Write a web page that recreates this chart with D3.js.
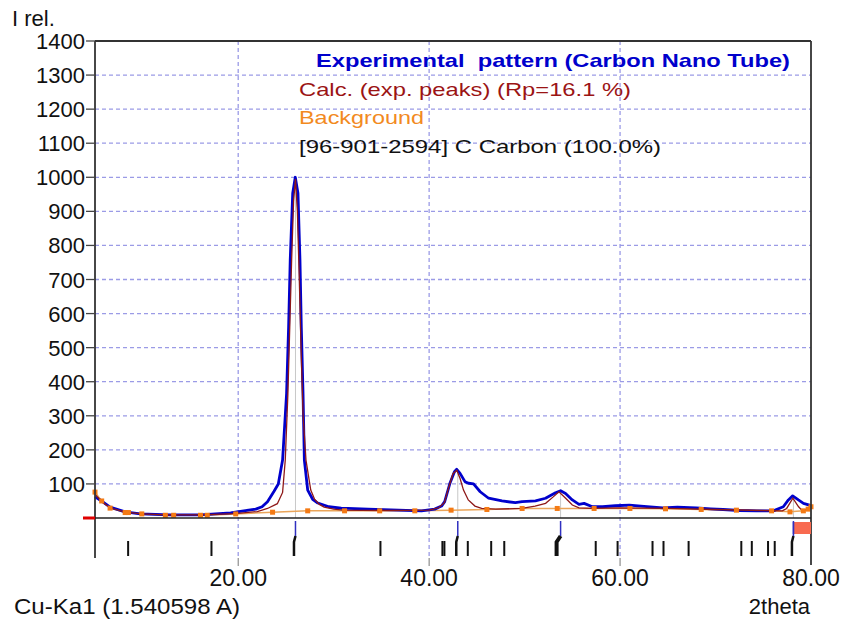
<!DOCTYPE html>
<html>
<head>
<meta charset="utf-8">
<script src="https://cdn.jsdelivr.net/npm/d3@7"></script>
<style>
  body { margin: 0; background: #fff; }
  text { font-family: Arial, "Liberation Sans", sans-serif; }
</style>
</head>
<body>
<script>
// experimental pattern (blue)
var expTheta = [5, 5.53, 6.58, 8.16, 9.74, 12.9, 16.05, 17.63, 19.21, 20.05, 21.84, 22.5, 23.07, 23.74, 24.2, 24.65,
    25.07, 25.28, 25.45, 25.71, 25.98, 26.26, 26.47, 26.61, 26.79, 26.93, 27.28, 27.8, 28.34, 29.5, 30.79, 33.6,
    36, 39.2, 40.58, 41.3, 41.63, 42.19, 42.65, 42.89, 43.24, 43.77, 44.13, 44.65, 45.35, 46.23, 47.63, 49.03,
    49.74, 51.14, 52.19, 53.24, 53.77, 54.29, 55, 55.7, 56.23, 57.1, 58.16, 59.5, 60.97, 62.5, 64.47, 66, 67.98,
    69.5, 70.79, 72.5, 74.29, 76.05, 77.1, 77.63, 78.08, 78.68, 79.21, 79.92, 80]
var expI = [62, 53, 32, 18, 12, 9, 9, 12, 15, 19, 26, 33, 48, 78, 100, 170,
    366, 560, 757, 953, 1000, 953, 757, 560, 366, 170, 82, 55, 44, 33, 29, 26,
    24, 21, 26, 35, 48, 103, 136, 143, 131, 106, 102, 100, 77, 58, 50, 45,
    48, 50, 58, 74, 80, 72, 53, 40, 43, 33, 33, 36, 38, 34, 30, 32, 30,
    27, 25, 22, 21, 21, 33, 53, 65, 53, 43, 37, 33]

// calculated profile (dark red)
var calcTheta = [5, 5.7, 6.58, 8.16, 9.9, 12.4, 16, 19.7, 22, 23.07, 24.1, 24.65, 24.93, 25.2, 25.4, 25.6, 25.8,
    26, 26.2, 26.4, 26.6, 26.8, 27.1, 27.6, 28, 28.5, 29, 30, 31, 35, 40, 41, 41.6, 42, 42.5, 42.9, 43.24,
    43.6, 44.1, 44.8, 45.5, 47, 49.7, 51.1, 52.2, 53, 53.6, 54.3, 55, 55.7, 57, 60, 65, 70, 75, 77, 77.45,
    78.1, 78.7, 79.1, 79.6, 80]
var calcI = [70, 48, 30, 17, 12, 9, 9, 13, 19, 28, 42, 75, 170, 360, 560, 760, 930,
    995, 900, 700, 480, 300, 170, 82, 55, 40, 32, 26, 23, 22, 23, 30, 45, 85, 130, 140, 116,
    82, 53, 35, 28, 26, 28, 35, 43, 62, 77, 58, 38, 30, 28, 30, 28, 25, 22, 21, 28,
    58, 33, 21, 26, 33]

// background points (orange)
var bgTheta = [5, 5.7, 6.58, 8.16, 8.5, 9.9, 12.37, 13.24, 16.05, 16.76, 19.74, 23.6, 27.28, 31.14, 34.82, 38.5,
    42.3, 46.05, 49.74, 53.42, 57.28, 61.03, 64.76, 68.5, 72.19, 75.87, 77.8, 79.2, 79.7, 80]
var bgI = [76, 50, 29, 16, 16, 12, 8, 8, 8, 8, 12, 17, 21, 21, 21, 21,
    23, 25, 28, 28, 28, 28, 27, 25, 23, 21, 18, 21, 26, 33]

// reflection positions of C Carbon, and the fitted peak positions
var refTicks = [8.47, 17.2, 34.9, 41.39, 41.6, 44.05, 46.5, 47.87, 57.45, 59.74, 63.4, 64.55, 67.18,
    72.7, 73.8, 75.5, 76.2]
var peakPos = [26.0, 43.0, 53.77, 78.16]

var yTicks = [100, 200, 300, 400, 500, 600, 700, 800, 900, 1000, 1100, 1200, 1300, 1400]
var xTicks = [20, 40, 60, 80]

var legend = [
    { text: "Experimental  pattern (Carbon Nano Tube)", color: "#0000cc", bold: true, len: 474 },
    { text: "Calc. (exp. peaks) (Rp=16.1 %)", color: "#9b1414", bold: false, len: 332 },
    { text: "Background", color: "#f28a1e", bold: false, len: 125 },
    { text: "[96-901-2594] C Carbon (100.0%)", color: "#111", bold: false, len: 362 }
]

var W = 842, H = 623
var pLeft = 95, pRight = 811, pTop = 41, zeroY = 518, pBottom = 558

var svg = d3.select('body').append('svg')
    .attr('width', W)
    .attr('height', H)

var x = d3.scaleLinear().domain([5, 80]).range([pLeft, pRight])
var y = d3.scaleLinear().domain([0, 1400]).range([zeroY, pTop])

function zip(a, b) {
    return a.map(function (v, i) { return [v, b[i]] })
}

var line = d3.line()
    .x(function (d) { return x(d[0]) })
    .y(function (d) { return y(d[1]) })

// grid
var grid = svg.append('g')
grid.selectAll('line.h')
    .data(yTicks.filter(function (t) { return t < 1400 }))
    .enter().append('line')
    .attr('x1', pLeft).attr('x2', pRight)
    .attr('y1', function (d) { return y(d) }).attr('y2', function (d) { return y(d) })
    .attr('stroke', '#9b9be6').attr('stroke-width', 1.3).attr('stroke-dasharray', '4,3')
grid.selectAll('line.v')
    .data(xTicks.filter(function (t) { return t < 80 }))
    .enter().append('line')
    .attr('x1', function (d) { return x(d) }).attr('x2', function (d) { return x(d) })
    .attr('y1', pTop).attr('y2', pBottom)
    .attr('stroke', '#9b9be6').attr('stroke-width', 1.3).attr('stroke-dasharray', '4,3')
grid.selectAll('line.vt')
    .data(xTicks.filter(function (t) { return t < 80 }))
    .enter().append('line')
    .attr('x1', function (d) { return x(d) }).attr('x2', function (d) { return x(d) })
    .attr('y1', pBottom).attr('y2', pBottom + 8)
    .attr('stroke', '#777').attr('stroke-width', 1)

// legend
var leg = svg.append('g')
leg.selectAll('text')
    .data(legend)
    .enter().append('text')
    .attr('x', function (d, i) { return i == 0 ? 316 : 299 })
    .attr('y', function (d, i) { return 67 + i * 28.7 })
    .attr('fill', function (d) { return d.color })
    .attr('font-size', 19)
    .attr('font-weight', function (d) { return d.bold ? 'bold' : 'normal' })
    .attr('textLength', function (d) { return d.len })
    .attr('lengthAdjust', 'spacingAndGlyphs')
    .style('white-space', 'pre')
    .text(function (d) { return d.text })

// peak guide lines
svg.append('g').selectAll('line')
    .data(peakPos)
    .enter().append('line')
    .attr('x1', function (d) { return x(d) }).attr('x2', function (d) { return x(d) })
    .attr('y1', function (d) { return y(d3.max(zip(expTheta, expI).filter(function (p) { return Math.abs(p[0] - d) < 0.5 }), function (p) { return p[1] })) })
    .attr('y2', zeroY)
    .attr('stroke', '#c8c8c8').attr('stroke-width', 1)

// background
svg.append('path')
    .attr('d', line(zip(bgTheta, bgI)))
    .attr('fill', 'none')
    .attr('stroke', '#eaa55a')
    .attr('stroke-width', 1.5)

// experimental
svg.append('path')
    .attr('d', line(zip(expTheta, expI)))
    .attr('fill', 'none')
    .attr('stroke', '#0000cc')
    .attr('stroke-width', 2.8)
    .attr('stroke-linejoin', 'round')

// calculated
svg.append('path')
    .attr('d', line(zip(calcTheta, calcI)))
    .attr('fill', 'none')
    .attr('stroke', '#8e1818')
    .attr('stroke-width', 1.3)

// background markers
svg.append('g').selectAll('rect')
    .data(zip(bgTheta, bgI))
    .enter().append('rect')
    .attr('x', function (d) { return x(d[0]) - 2.5 })
    .attr('y', function (d) { return y(d[1]) - 2.5 })
    .attr('width', 5).attr('height', 5)
    .attr('fill', '#f47a14')

// frame
var frame = svg.append('g').attr('stroke', '#333').attr('fill', 'none')
frame.append('line').attr('x1', pLeft).attr('x2', pRight).attr('y1', pTop).attr('y2', pTop).attr('stroke-width', 1.8)
frame.append('line').attr('x1', pLeft).attr('x2', pLeft).attr('y1', pTop).attr('y2', pBottom).attr('stroke-width', 1.8)
frame.append('line').attr('x1', pRight).attr('x2', pRight).attr('y1', pTop).attr('y2', pBottom + 7).attr('stroke-width', 1.8)
frame.append('line').attr('x1', pLeft).attr('x2', pRight).attr('y1', zeroY).attr('y2', zeroY).attr('stroke-width', 1.6).attr('stroke', '#222')

// red zero marker on the left
svg.append('rect').attr('x', 83).attr('y', zeroY - 1.5).attr('width', pLeft - 83).attr('height', 3).attr('fill', '#e00000')

// salmon box at the last peak
svg.append('rect')
    .attr('x', x(peakPos[3])).attr('y', 522)
    .attr('width', pRight - x(peakPos[3])).attr('height', 12)
    .attr('fill', '#f86a50')
svg.append('line')
    .attr('x1', x(peakPos[3])).attr('x2', x(peakPos[3]))
    .attr('y1', 522).attr('y2', 534)
    .attr('stroke', '#5050c8').attr('stroke-width', 1.5)

// y axis ticks
var yAx = svg.append('g')
yAx.selectAll('line')
    .data(yTicks)
    .enter().append('line')
    .attr('x1', pLeft - 9).attr('x2', pLeft)
    .attr('y1', function (d) { return y(d) }).attr('y2', function (d) { return y(d) })
    .attr('stroke', '#444').attr('stroke-width', 1.3)
yAx.selectAll('text')
    .data(yTicks)
    .enter().append('text')
    .attr('x', pLeft - 10)
    .attr('y', function (d) { return y(d) + 8 })
    .attr('text-anchor', 'end')
    .attr('font-size', 22)
    .attr('fill', '#111')
    .text(function (d) { return d })

// x labels
svg.append('g').selectAll('text')
    .data(xTicks)
    .enter().append('text')
    .attr('x', function (d) { return x(d) })
    .attr('y', 586)
    .attr('text-anchor', 'middle')
    .attr('font-size', 23)
    .attr('fill', '#111')
    .text(function (d) { return d3.format('.2f')(d) })

// reflection ticks
svg.append('g').selectAll('line')
    .data(refTicks)
    .enter().append('line')
    .attr('x1', function (d) { return x(d) }).attr('x2', function (d) { return x(d) })
    .attr('y1', 541).attr('y2', 556)
    .attr('stroke', '#111').attr('stroke-width', 2)

// peak markers below the axis
var pm = svg.append('g').selectAll('g')
    .data(peakPos)
    .enter().append('g')
pm.append('line')
    .attr('x1', function (d) { return x(d) }).attr('x2', function (d) { return x(d) })
    .attr('y1', 521).attr('y2', 536)
    .attr('stroke', '#3030c0').attr('stroke-width', 1.5)
pm.append('path')
    .attr('d', function (d, i) {
        var px = x(d), o = i == 2 ? 4 : 1.5
        return 'M' + px + ',536 L' + (px - o) + ',542 L' + (px - o) + ',556'
    })
    .attr('fill', 'none')
    .attr('stroke', '#111')
    .attr('stroke-width', function (d, i) { return i == 2 ? 4 : 2.5 })

// axis titles
svg.append('text').attr('x', 12).attr('y', 26).attr('font-size', 22).attr('fill', '#111').text('I rel.')
svg.append('text').attr('x', 14).attr('y', 614).attr('font-size', 22).attr('fill', '#111')
    .attr('textLength', 226).attr('lengthAdjust', 'spacingAndGlyphs').text('Cu-Ka1 (1.540598 A)')
svg.append('text').attr('x', 810).attr('y', 614).attr('text-anchor', 'end').attr('font-size', 22).attr('fill', '#111').text('2theta')
</script>
</body>
</html>
